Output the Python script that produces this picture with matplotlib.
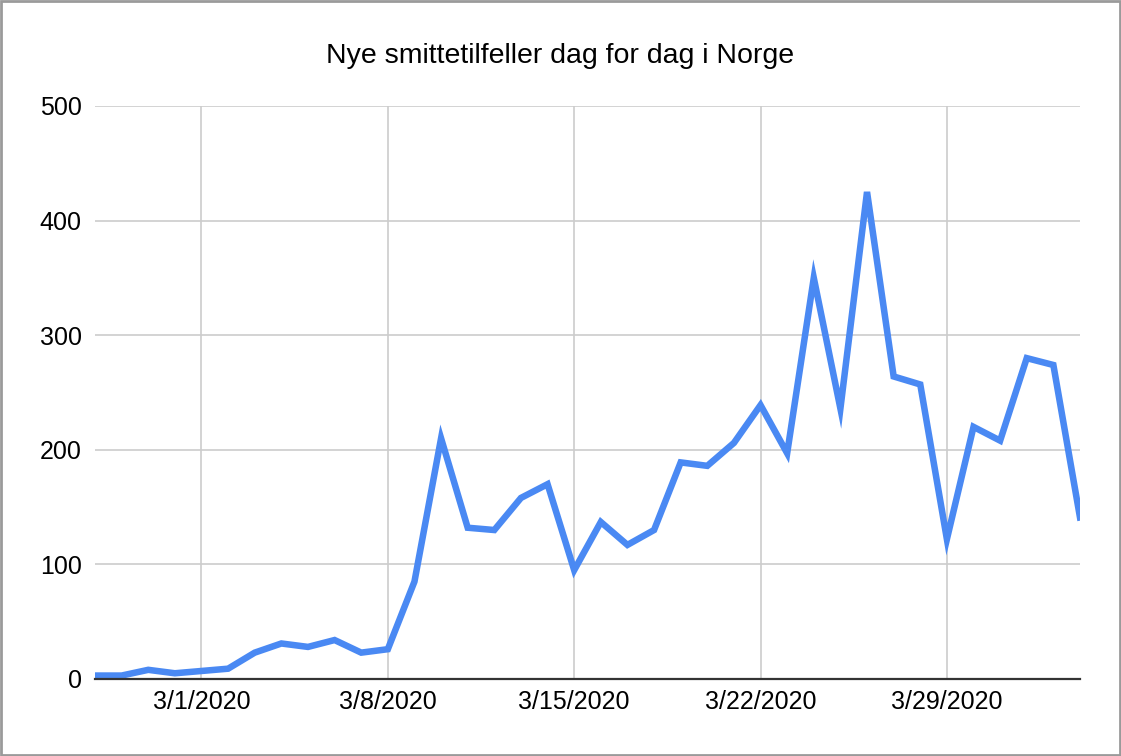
import numpy as np
import pandas as pd
import matplotlib
matplotlib.use("Agg")
import matplotlib.pyplot as plt
import matplotlib.dates as mdates
from matplotlib.patches import Rectangle

# daily new cases (2/26/2020 .. 4/3/2020)
start_date = "2020-02-26"
new_cases = [3, 3, 8, 5, 7, 9, 23, 31, 28, 34, 23, 26, 85, 210, 132, 130, 158, 170,
             95, 137, 117, 130, 189, 186, 206, 239, 197, 350, 236, 425, 264, 257,
             122, 220, 208, 280, 274, 141]
y_ticks = [0, 100, 200, 300, 400, 500]
title = "Nye smittetilfeller dag for dag i Norge"

dates = pd.date_range(start_date, periods=len(new_cases), freq="D")

plt.rcParams['font.family'] = ['Liberation Sans', 'DejaVu Sans']

fig = plt.figure(figsize=(11.21, 7.56), dpi=100)
W, H = 1121, 756
ax = fig.add_axes([95 / W, 1 - 679 / H, (1080 - 95) / W, (679 - 106) / H])

ax.plot(dates, new_cases, color='#4a89f3', linewidth=4.7,
        solid_joinstyle='miter', clip_on=True, zorder=3)

ax.set_xlim(dates[0], dates[-1])
ax.set_ylim(0, 500)
ax.set_yticks(y_ticks)
# weekly ticks on Sundays (3/1, 3/8, ...)
ax.xaxis.set_major_locator(mdates.WeekdayLocator(byweekday=mdates.SU))
ax.xaxis.set_major_formatter(mdates.DateFormatter('%-m/%-d/%Y'))

ax.grid(True, color='#cccccc', linewidth=1.2, zorder=0)
for side in ['left', 'right', 'top']:
    ax.spines[side].set_visible(False)
ax.spines['bottom'].set_color('#333333')
ax.spines['bottom'].set_linewidth(1.6)
ax.spines['bottom'].set_zorder(4)
ax.tick_params(axis='both', length=0, labelsize=18, colors='#000000')
ax.tick_params(axis='y', pad=9.5)
ax.tick_params(axis='x', pad=8)

fig.text(560 / W, 1 - 63 / H, title, ha='center', va='baseline', fontsize=20.5)

# grey frame round the whole picture
fig.patches.append(Rectangle((0.001, 0.0015), 0.998, 0.997, transform=fig.transFigure,
                             fill=False, edgecolor='#9a9a9a', linewidth=2))

fig.savefig('out.png', dpi=100)
